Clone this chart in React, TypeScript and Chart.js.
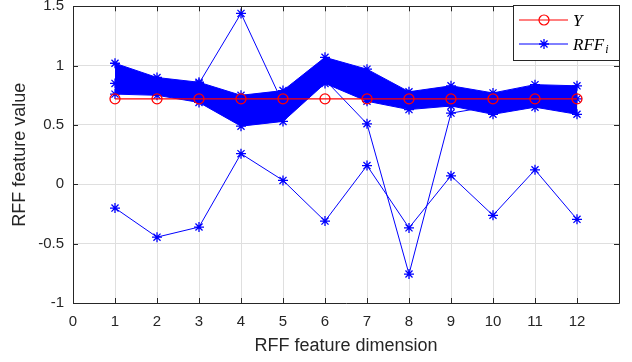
import React, { useEffect, useRef } from 'react';
import { Chart, registerables } from 'chart.js';

Chart.register(...registerables);

// ---- data ----
const dimensions = [1, 2, 3, 4, 5, 6, 7, 8, 9, 10, 11, 12];
const targetY = [0.72, 0.72, 0.72, 0.72, 0.72, 0.72, 0.72, 0.72, 0.72, 0.72, 0.72, 0.72];
const rffBandUpper = [1.02, 0.9, 0.86, 0.75, 0.79, 1.07, 0.97, 0.78, 0.83, 0.77, 0.84, 0.83];
const rffBandLower = [0.76, 0.75, 0.69, 0.49, 0.53, 0.85, 0.7, 0.63, 0.66, 0.59, 0.65, 0.59];
const rffOutlierHigh = [0.85, 0.8, 0.85, 1.44, 0.68, 0.88, 0.51, -0.756, 0.6, 0.66, 0.74, 0.72];
const rffOutlierLow = [-0.2, -0.445, -0.36, 0.258, 0.033, -0.31, 0.158, -0.367, 0.072, -0.261, 0.122, -0.295];
const xTickLabels = ['0', '1', '2', '3', '4', '5', '6', '7', '8', '9', '10', '11', '12', ''];
const yTickLabels = ['-1', '-0.5', '0', '0.5', '1', '1.5'];
const xTitle = 'RFF feature dimension';
const yTitle = 'RFF feature value';

const BLUE = '#0000ff';
const RED = '#ff0000';
const AXIS = '#262626';
const GRID = '#dfdfdf';

const pts = (ys: number[]) => dimensions.map((x, i) => ({ x, y: ys[i] }));

const axesBoxPlugin = {
  id: 'axesBox',
  afterDatasetsDraw(chart: any) {
    const { ctx, chartArea: a, scales } = chart;
    ctx.save();
    ctx.strokeStyle = AXIS;
    ctx.lineWidth = 1;
    ctx.beginPath();
    ctx.rect(Math.round(a.left) + 0.5, Math.round(a.top) + 0.5, Math.round(a.right - a.left), Math.round(a.bottom - a.top));
    ctx.stroke();
    const tl = 5;
    ctx.beginPath();
    scales.x.ticks.forEach((t: any) => {
      const px = Math.round(scales.x.getPixelForValue(t.value)) + 0.5;
      ctx.moveTo(px, a.bottom);
      ctx.lineTo(px, a.bottom - tl);
      ctx.moveTo(px, a.top);
      ctx.lineTo(px, a.top + tl);
    });
    scales.y.ticks.forEach((t: any) => {
      const py = Math.round(scales.y.getPixelForValue(t.value)) + 0.5;
      ctx.moveTo(a.left, py);
      ctx.lineTo(a.left + tl, py);
      ctx.moveTo(a.right, py);
      ctx.lineTo(a.right - tl, py);
    });
    ctx.stroke();
    ctx.restore();
  },
};

const drawStar = (ctx: CanvasRenderingContext2D, x: number, y: number, r: number) => {
  ctx.beginPath();
  ctx.moveTo(x - r, y); ctx.lineTo(x + r, y);
  ctx.moveTo(x, y - r); ctx.lineTo(x, y + r);
  const d = r * 0.7071;
  ctx.moveTo(x - d, y - d); ctx.lineTo(x + d, y + d);
  ctx.moveTo(x - d, y + d); ctx.lineTo(x + d, y - d);
  ctx.stroke();
};

const legendPlugin = {
  id: 'matlabLegend',
  afterDraw(chart: any) {
    const { ctx } = chart;
    const bx = 513, by = 5, bw = 106, bh = 55;
    ctx.save();
    ctx.fillStyle = '#ffffff';
    ctx.fillRect(bx, by, bw, bh);
    ctx.strokeStyle = AXIS;
    ctx.lineWidth = 1;
    ctx.strokeRect(bx + 0.5, by + 0.5, bw, bh);
    const y1 = 20, y2 = 44;
    ctx.strokeStyle = RED;
    ctx.lineWidth = 1.2;
    ctx.beginPath(); ctx.moveTo(519, y1); ctx.lineTo(568, y1); ctx.stroke();
    ctx.beginPath(); ctx.arc(544, y1, 5, 0, Math.PI * 2); ctx.stroke();
    ctx.strokeStyle = BLUE;
    ctx.lineWidth = 1;
    ctx.beginPath(); ctx.moveTo(519, y2); ctx.lineTo(568, y2); ctx.stroke();
    ctx.lineWidth = 1.3;
    drawStar(ctx, 544, y2, 5);
    ctx.fillStyle = '#000000';
    ctx.textBaseline = 'alphabetic';
    ctx.textAlign = 'left';
    ctx.font = 'italic 17px "Liberation Serif"';
    ctx.fillText('Y', 573, y1 + 6);
    ctx.fillText('RFF', 573, y2 + 6);
    const w = ctx.measureText('RFF').width;
    ctx.font = 'italic 12px "Liberation Serif"';
    ctx.fillText('i', 573 + w + 1, y2 + 9);
    ctx.restore();
  },
};

export default function App() {
  const ref = useRef<HTMLCanvasElement | null>(null);
  useEffect(() => {
    document.body.style.margin = '0';
    if (!ref.current) return;
    const lineDs = (label: string, data: number[], extra: any = {}) => ({
      label,
      data: pts(data),
      borderColor: BLUE,
      backgroundColor: BLUE,
      borderWidth: 1,
      pointStyle: 'star',
      pointRadius: 5,
      pointBorderWidth: 1.3,
      pointBorderColor: BLUE,
      fill: false,
      order: 1,
      ...extra,
    });
    const chart = new Chart(ref.current, {
      type: 'line',
      data: {
        datasets: [
          {
            label: 'Y',
            data: pts(targetY),
            borderColor: RED,
            backgroundColor: 'rgba(0,0,0,0)',
            borderWidth: 1.3,
            pointStyle: 'circle',
            pointRadius: 5,
            pointBorderWidth: 1.3,
            pointBorderColor: RED,
            pointBackgroundColor: 'rgba(0,0,0,0)',
            fill: false,
            order: 0,
          },
          lineDs('RFF_i outlier high', rffOutlierHigh),
          lineDs('RFF_i outlier low', rffOutlierLow),
          lineDs('RFF_i upper', rffBandUpper, { fill: '+1', backgroundColor: BLUE, order: 2 }),
          lineDs('RFF_i lower', rffBandLower, { order: 2 }),
        ],
      },
      options: {
        animation: false,
        responsive: false,
        devicePixelRatio: 1,
        layout: { padding: { top: 5, right: 13, left: 0, bottom: 0 } },
        plugins: { legend: { display: false }, tooltip: { enabled: false } },
        elements: { line: { tension: 0 } },
        scales: {
          x: {
            type: 'linear',
            min: 0,
            max: 13,
            afterFit: (s: any) => { s.height = 59; s.paddingLeft = 0; s.paddingRight = 0; },
            border: { display: false },
            grid: { color: GRID, drawTicks: false, lineWidth: 1 },
            ticks: {
              stepSize: 1,
              padding: 10,
              color: AXIS,
              font: { family: '"Liberation Sans", Arial, sans-serif', size: 15 },
              callback: (v: any) => xTickLabels[Math.round(Number(v))] ?? '',
            },
            title: {
              display: true,
              text: xTitle,
              color: AXIS,
              padding: { top: 0, bottom: 5 },
              font: { family: '"Liberation Sans", Arial, sans-serif', size: 18 },
            },
          },
          y: {
            type: 'linear',
            min: -1,
            max: 1.5,
            afterFit: (s: any) => { s.width = 73; s.paddingTop = 0; s.paddingBottom = 0; },
            border: { display: false },
            grid: { color: GRID, drawTicks: false, lineWidth: 1 },
            ticks: {
              stepSize: 0.5,
              padding: 9,
              color: AXIS,
              font: { family: '"Liberation Sans", Arial, sans-serif', size: 15 },
              callback: (v: any) => yTickLabels[Math.round((Number(v) + 1) / 0.5)] ?? '',
            },
            title: {
              display: true,
              text: yTitle,
              color: AXIS,
              padding: { top: 9, bottom: 0 },
              font: { family: '"Liberation Sans", Arial, sans-serif', size: 18 },
            },
          },
        },
      },
      plugins: [axesBoxPlugin, legendPlugin],
    } as any);
    return () => chart.destroy();
  }, []);
  return (
    <div style={{ position: 'absolute', left: 0, top: 0, width: 632, height: 362, background: '#fff' }}>
      <canvas ref={ref} width={632} height={362} />
    </div>
  );
}
